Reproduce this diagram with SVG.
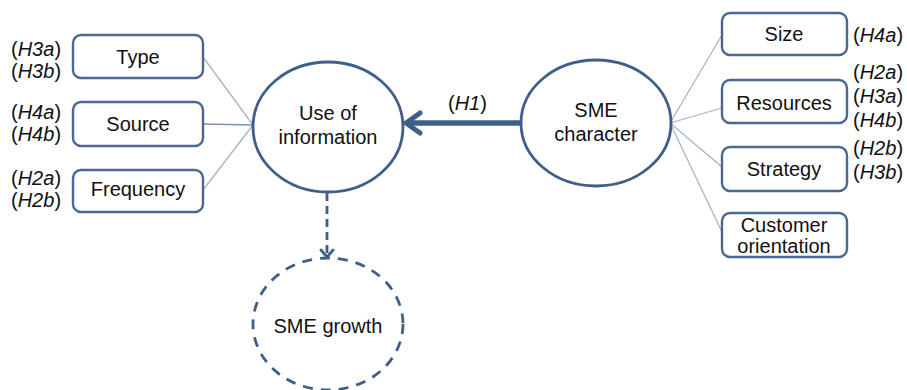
<svg xmlns="http://www.w3.org/2000/svg" width="907" height="390" viewBox="0 0 907 390">
  <defs>
    <style>
      text { font-family: "Liberation Sans", Arial, sans-serif; fill: #111; }
      .lbl { font-size: 20px; text-anchor: middle; }
      .hyp { font-size: 20px; }
      .box { fill: #fff; stroke: #4a6890; stroke-width: 2.4; }
      .ell { fill: #fff; stroke: #3f5f88; stroke-width: 2.8; }
      .thin { stroke: #a9b4c6; stroke-width: 1.3; fill: none; }
      .head { fill: none; stroke: #3f5f88; stroke-linecap: round; stroke-linejoin: round; }
    </style>
  </defs>
  <rect width="907" height="390" fill="#fff"/>

  <!-- connectors -->
  <g id="connectors">
    <line class="thin" x1="203" y1="57" x2="253" y2="125"/>
    <line class="thin" x1="203" y1="124" x2="253" y2="125" style="stroke:#7f91ab"/>
    <line class="thin" x1="203" y1="190" x2="253" y2="125"/>
    <line class="thin" x1="670" y1="123" x2="722" y2="35"/>
    <line class="thin" x1="670" y1="123" x2="722" y2="108"/>
    <line class="thin" x1="670" y1="123" x2="722" y2="167"/>
    <line class="thin" x1="670" y1="123" x2="722" y2="232"/>
    <!-- H1: character -> use of information -->
    <line x1="521" y1="123" x2="408" y2="123" stroke="#3f5f88" stroke-width="5.5"/>
    <path class="head" d="M420,113 L406,123 L420,133" stroke-width="5"/>
    <text class="hyp" x="448" y="110">(<tspan font-style="italic">H1</tspan>)</text>
    <!-- use of information -> growth -->
    <line x1="327" y1="193" x2="327" y2="256" stroke="#3f5f88" stroke-width="2.8" stroke-dasharray="8,5"/>
    <path class="head" d="M321,250 L327,257 L333,250" stroke-width="2.8"/>
  </g>

  <!-- information nodes -->
  <g id="type">
    <rect class="box" x="73" y="35" width="130" height="43" rx="8"/>
    <text class="lbl" x="138" y="64">Type</text>
    <text class="hyp" x="11" y="56">(<tspan font-style="italic">H3a</tspan>)</text>
    <text class="hyp" x="11" y="78">(<tspan font-style="italic">H3b</tspan>)</text>
  </g>
  <g id="source">
    <rect class="box" x="73" y="102" width="130" height="44" rx="8"/>
    <text class="lbl" x="138" y="131">Source</text>
    <text class="hyp" x="11" y="119">(<tspan font-style="italic">H4a</tspan>)</text>
    <text class="hyp" x="11" y="141">(<tspan font-style="italic">H4b</tspan>)</text>
  </g>
  <g id="frequency">
    <rect class="box" x="73" y="170" width="130" height="42" rx="8"/>
    <text class="lbl" x="138" y="196">Frequency</text>
    <text class="hyp" x="11" y="185">(<tspan font-style="italic">H2a</tspan>)</text>
    <text class="hyp" x="11" y="207">(<tspan font-style="italic">H2b</tspan>)</text>
  </g>

  <g id="use-of-information">
    <ellipse class="ell" cx="328" cy="127" rx="75" ry="65"/>
    <text class="lbl" x="328" y="120">Use of</text>
    <text class="lbl" x="328" y="144">information</text>
  </g>

  <g id="sme-character">
    <ellipse class="ell" cx="596" cy="123" rx="75" ry="63"/>
    <text class="lbl" x="596" y="117">SME</text>
    <text class="lbl" x="596" y="141">character</text>
  </g>

  <g id="sme-growth">
    <ellipse cx="328" cy="324" rx="75" ry="66" fill="#fff" stroke="#3f5f88" stroke-width="2.8" stroke-dasharray="10,8"/>
    <text class="lbl" x="328" y="333">SME growth</text>
  </g>

  <!-- character nodes -->
  <g id="size">
    <rect class="box" x="722" y="13" width="125" height="42" rx="8"/>
    <text class="lbl" x="784" y="41">Size</text>
    <text class="hyp" x="853" y="42">(<tspan font-style="italic">H4a</tspan>)</text>
  </g>
  <g id="resources">
    <rect class="box" x="722" y="80" width="125" height="43" rx="8"/>
    <text class="lbl" x="784" y="110">Resources</text>
    <text class="hyp" x="853" y="79">(<tspan font-style="italic">H2a</tspan>)</text>
    <text class="hyp" x="853" y="103">(<tspan font-style="italic">H3a</tspan>)</text>
    <text class="hyp" x="853" y="127">(<tspan font-style="italic">H4b</tspan>)</text>
  </g>
  <g id="strategy">
    <rect class="box" x="722" y="147" width="125" height="44" rx="8"/>
    <text class="lbl" x="784" y="176">Strategy</text>
    <text class="hyp" x="853" y="155">(<tspan font-style="italic">H2b</tspan>)</text>
    <text class="hyp" x="853" y="179">(<tspan font-style="italic">H3b</tspan>)</text>
  </g>
  <g id="customer-orientation">
    <rect class="box" x="722" y="213" width="125" height="44" rx="8"/>
    <text class="lbl" x="784" y="232">Customer</text>
    <text class="lbl" x="784" y="253">orientation</text>
  </g>
</svg>
